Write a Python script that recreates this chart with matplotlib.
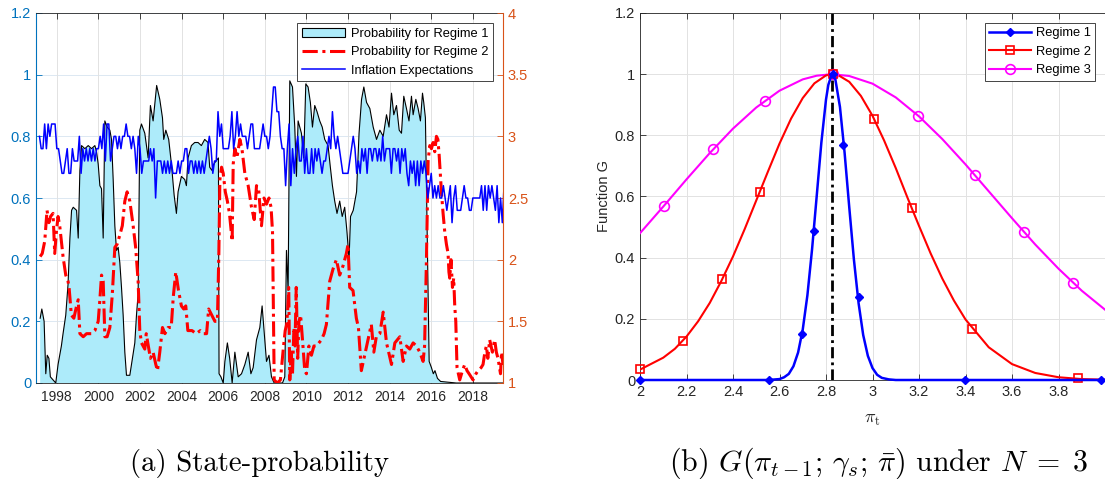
import numpy as np
import matplotlib
matplotlib.use('Agg')
import matplotlib.pyplot as plt
from matplotlib.patches import Patch
from matplotlib.lines import Line2D

plt.rcParams['font.family'] = ['Liberation Sans', 'DejaVu Sans']
plt.rcParams['mathtext.fontset'] = 'cm'

# ---------------- (a) state probabilities ----------------
# probability for regime 1 (decimal year, value)
reg1_t = [1997.2, 1997.28, 1997.39, 1997.47, 1997.54, 1997.62, 1997.69, 1997.82, 1997.95, 1998.06,
          1998.22, 1998.3, 1998.43, 1998.54, 1998.63, 1998.71, 1998.79, 1998.95, 1999.03, 1999.11,
          1999.19, 1999.35, 1999.51, 1999.67, 1999.83, 1999.91, 1999.99, 2000.07, 2000.15, 2000.23,
          2000.31, 2000.42, 2000.55, 2000.63, 2000.71, 2000.79, 2000.87, 2000.95, 2001.03, 2001.11,
          2001.19, 2001.27, 2001.35, 2001.51, 2001.59, 2001.75, 2001.83, 2001.91, 2001.99, 2002.07,
          2002.23, 2002.39, 2002.5, 2002.63, 2002.8, 2002.95, 2003.08, 2003.14, 2003.24, 2003.38,
          2003.51, 2003.64, 2003.75, 2003.83, 2003.99, 2004.15, 2004.23, 2004.31, 2004.47, 2004.63,
          2004.79, 2004.95, 2005.11, 2005.27, 2005.35, 2005.45, 2005.55, 2005.65, 2005.77, 2005.8,
          2005.89, 2006.0, 2006.08, 2006.2, 2006.31, 2006.43, 2006.56, 2006.72, 2006.88, 2007.04,
          2007.2, 2007.33, 2007.44, 2007.6, 2007.76, 2007.87, 2008.0, 2008.08, 2008.2, 2008.32,
          2008.45, 2008.85, 2008.96, 2009.04, 2009.12, 2009.2, 2009.33, 2009.44, 2009.52, 2009.6,
          2009.68, 2009.76, 2009.87, 2009.97, 2010.08, 2010.19, 2010.29, 2010.4, 2010.51, 2010.64,
          2010.76, 2010.88, 2011.04, 2011.15, 2011.25, 2011.36, 2011.47, 2011.6, 2011.72, 2011.84,
          2011.95, 2012.05, 2012.12, 2012.25, 2012.41, 2012.53, 2012.65, 2012.76, 2012.89, 2013.05,
          2013.21, 2013.37, 2013.53, 2013.69, 2013.85, 2013.97, 2014.09, 2014.2, 2014.33, 2014.46,
          2014.57, 2014.68, 2014.81, 2014.93, 2015.05, 2015.13, 2015.26, 2015.37, 2015.48, 2015.58,
          2015.64, 2015.72, 2015.8, 2015.9, 2016.01, 2016.1, 2016.18, 2016.3, 2016.45, 2017.2,
          2019.45]
reg1_p = [0.21, 0.24, 0.20, 0.03, 0.09, 0.08, 0.02, 0.01, 0.0, 0.06,
          0.12, 0.16, 0.22, 0.32, 0.47, 0.56, 0.57, 0.56, 0.47, 0.69,
          0.77, 0.76, 0.77, 0.76, 0.77, 0.75, 0.71, 0.64, 0.63, 0.47,
          0.85, 0.83, 0.82, 0.79, 0.66, 0.51, 0.43, 0.44, 0.39, 0.31,
          0.22, 0.10, 0.025, 0.025, 0.06, 0.13, 0.22, 0.29, 0.82, 0.84,
          0.81, 0.73, 0.90, 0.85, 0.965, 0.92, 0.86, 0.79, 0.82, 0.79,
          0.71, 0.61, 0.55, 0.62, 0.67, 0.66, 0.64, 0.73, 0.77, 0.78,
          0.78, 0.77, 0.79, 0.78, 0.70, 0.69, 0.71, 0.72, 0.73, 0.03,
          0.02, 0.0, 0.07, 0.13, 0.08, 0.0, 0.10, 0.02, 0.03, 0.06,
          0.10, 0.03, 0.05, 0.14, 0.18, 0.25, 0.14, 0.07, 0.09, 0.02,
          0.0, 0.0, 0.02, 0.43, 0.30, 0.98, 0.96, 0.83, 0.67, 0.85,
          0.83, 0.81, 0.73, 0.97, 0.96, 0.91, 0.83, 0.90, 0.88, 0.85,
          0.83, 0.79, 0.77, 0.70, 0.64, 0.59, 0.55, 0.59, 0.54, 0.57,
          0.49, 0.40, 0.54, 0.56, 0.62, 0.81, 0.92, 0.96, 0.91, 0.89,
          0.83, 0.79, 0.82, 0.80, 0.87, 0.83, 0.94, 0.87, 0.90, 0.82,
          0.81, 0.93, 0.89, 0.85, 0.93, 0.87, 0.92, 0.89, 0.85, 0.94,
          0.91, 0.86, 0.51, 0.07, 0.05, 0.03, 0.04, 0.015, 0.005, 0.0,
          0.0]

# probability for regime 2 (decimal year, value)
reg2_t = [1997.2, 1997.3, 1997.42, 1997.53, 1997.62, 1997.7, 1997.82, 1997.9, 1997.98, 1998.06,
          1998.14, 1998.22, 1998.3, 1998.43, 1998.54, 1998.59, 1998.7, 1998.82, 1998.95, 1999.03,
          1999.11, 1999.27, 1999.43, 1999.67, 1999.83, 1999.99, 2000.07, 2000.15, 2000.23, 2000.31,
          2000.42, 2000.55, 2000.67, 2000.79, 2000.9, 2001.03, 2001.15, 2001.27, 2001.38, 2001.51,
          2001.67, 2001.79, 2001.91, 2001.99, 2002.07, 2002.23, 2002.3, 2002.4, 2002.5, 2002.63,
          2002.76, 2002.84, 2002.95, 2003.08, 2003.2, 2003.35, 2003.5, 2003.6, 2003.72, 2003.85,
          2003.99, 2004.1, 2004.2, 2004.3, 2004.5, 2004.7, 2004.9, 2005.05, 2005.2, 2005.3,
          2005.45, 2005.6, 2005.72, 2005.79, 2005.84, 2005.92, 2006.0, 2006.1, 2006.2, 2006.3,
          2006.43, 2006.48, 2006.56, 2006.66, 2006.8, 2006.9, 2007.04, 2007.2, 2007.36, 2007.49,
          2007.6, 2007.7, 2007.84, 2007.96, 2008.08, 2008.2, 2008.3, 2008.37, 2008.45, 2008.6,
          2008.75, 2008.9, 2008.98, 2009.05, 2009.1, 2009.15, 2009.2, 2009.27, 2009.33, 2009.4,
          2009.45, 2009.51, 2009.58, 2009.64, 2009.72, 2009.8, 2009.92, 2010.0, 2010.12, 2010.24,
          2010.36, 2010.48, 2010.6, 2010.72, 2010.85, 2010.96, 2011.12, 2011.28, 2011.44, 2011.6,
          2011.76, 2011.92, 2012.0, 2012.08, 2012.24, 2012.4, 2012.5, 2012.64, 2012.8, 2012.96,
          2013.12, 2013.24, 2013.36, 2013.53, 2013.69, 2013.85, 2014.09, 2014.25, 2014.49, 2014.65,
          2014.81, 2014.97, 2015.13, 2015.29, 2015.45, 2015.61, 2015.68, 2015.77, 2015.85, 2015.93,
          2016.01, 2016.09, 2016.17, 2016.25, 2016.32, 2016.38, 2016.49, 2016.57, 2016.65, 2016.73,
          2016.81, 2016.85, 2016.89, 2016.95, 2017.02, 2017.08, 2017.13, 2017.18, 2017.24, 2017.37,
          2017.5, 2017.61, 2017.72, 2017.82, 2018.01, 2018.15, 2018.25, 2018.4, 2018.49, 2018.58,
          2018.65, 2018.72, 2018.81, 2018.94, 2019.05, 2019.13, 2019.21, 2019.33, 2019.38, 2019.45]
reg2_p = [0.41, 0.42, 0.46, 0.56, 0.52, 0.54, 0.55, 0.42, 0.49, 0.54,
          0.51, 0.46, 0.41, 0.35, 0.33, 0.31, 0.22, 0.21, 0.25, 0.27,
          0.16, 0.15, 0.16, 0.16, 0.17, 0.20, 0.27, 0.35, 0.33, 0.15,
          0.15, 0.18, 0.29, 0.44, 0.45, 0.48, 0.51, 0.59, 0.62, 0.59,
          0.51, 0.44, 0.33, 0.17, 0.13, 0.11, 0.16, 0.12, 0.08, 0.10,
          0.06, 0.04, 0.10, 0.18, 0.16, 0.18, 0.18, 0.28, 0.36, 0.30,
          0.25, 0.24, 0.25, 0.17, 0.17, 0.16, 0.17, 0.16, 0.16, 0.24,
          0.22, 0.20, 0.20, 0.42, 0.66, 0.70, 0.68, 0.62, 0.59, 0.55,
          0.46, 0.71, 0.76, 0.73, 0.79, 0.76, 0.68, 0.64, 0.57, 0.53,
          0.64, 0.63, 0.51, 0.60, 0.58, 0.60, 0.57, 0.49, 0.01, 0.0,
          0.01, 0.12, 0.17, 0.19, 0.24, 0.31, 0.01, 0.10, 0.03, 0.18,
          0.12, 0.31, 0.08, 0.20, 0.22, 0.15, 0.04, 0.03, 0.12, 0.09,
          0.12, 0.12, 0.13, 0.14, 0.16, 0.19, 0.33, 0.37, 0.40, 0.35,
          0.38, 0.42, 0.45, 0.31, 0.30, 0.21, 0.18, 0.04, 0.09, 0.14,
          0.19, 0.10, 0.15, 0.16, 0.23, 0.13, 0.06, 0.13, 0.15, 0.07,
          0.12, 0.11, 0.13, 0.12, 0.10, 0.07, 0.12, 0.40, 0.72, 0.77,
          0.76, 0.78, 0.75, 0.80, 0.79, 0.74, 0.62, 0.55, 0.49, 0.45,
          0.42, 0.36, 0.34, 0.40, 0.31, 0.34, 0.25, 0.20, 0.05, 0.01,
          0.04, 0.06, 0.04, 0.03, 0.01, 0.03, 0.04, 0.05, 0.06, 0.10,
          0.12, 0.08, 0.14, 0.10, 0.14, 0.10, 0.08, 0.03, 0.10, 0.06]

# inflation expectations, monthly from Mar 1997 (right axis)
infl_start = 1997 + 2 / 12
infl = [3.0, 2.9, 2.9, 3.1, 2.9, 3.1, 3.0, 3.1, 3.1, 3.1,
        2.9, 2.9, 2.8, 2.7, 2.7, 2.8, 2.9, 2.7, 2.7, 2.9,
        2.8, 2.8, 2.8, 3.0, 2.7, 2.9, 2.8, 2.9, 2.8, 2.9,
        2.8, 2.9, 2.8, 2.9, 2.9, 3.0, 2.9, 3.1, 2.8, 3.1,
        3.1, 2.8, 2.9, 3.0, 3.0, 2.9, 3.0, 2.9, 3.0, 3.0,
        3.1, 3.0, 3.0, 2.9, 3.0, 2.9, 2.7, 3.0, 2.9, 2.7,
        2.8, 2.8, 2.8, 2.8, 2.9, 2.8, 2.9, 2.5, 2.8, 2.8,
        2.8, 2.7, 2.8, 2.7, 2.8, 2.7, 2.8, 2.7, 2.7, 2.7,
        2.8, 2.7, 2.8, 2.8, 2.9, 2.9, 2.7, 2.8, 2.8, 2.7,
        2.8, 2.7, 2.8, 2.7, 2.8, 2.7, 2.8, 2.9, 3.0, 2.9,
        2.7, 2.8, 2.8, 3.2, 3.0, 3.1, 2.9, 2.9, 2.9, 2.9,
        3.0, 3.2, 2.9, 3.0, 3.2, 3.0, 3.1, 3.0, 3.0, 3.0,
        2.9, 3.0, 3.1, 3.1, 2.9, 2.9, 2.9, 2.9, 3.0, 3.1,
        3.0, 3.0, 2.9, 3.0, 3.2, 3.4, 3.4, 3.2, 3.2, 3.0,
        2.9, 2.9, 2.6, 2.9, 3.1, 2.6, 2.9, 2.7, 2.9, 3.0,
        2.8, 2.8, 3.0, 2.7, 2.9, 2.7, 2.7, 2.9, 2.7, 2.9,
        2.8, 2.9, 2.8, 2.7, 2.8, 2.8, 2.9, 3.0, 2.9, 3.2,
        3.0, 2.9, 3.0, 2.9, 2.8, 2.7, 2.7, 2.7, 2.7, 2.8,
        2.9, 3.0, 2.9, 2.7, 2.8, 2.7, 2.9, 2.8, 2.9, 2.7,
        2.9, 2.9, 2.8, 2.9, 2.9, 2.8, 2.9, 2.8, 3.0, 2.8,
        2.9, 2.9, 2.9, 2.7, 2.9, 2.9, 2.8, 2.9, 2.7, 2.9,
        2.8, 2.9, 2.7, 2.6, 2.8, 2.7, 2.8, 2.6, 2.8, 2.6,
        2.8, 2.7, 2.8, 2.7, 2.5, 2.6, 2.7, 2.5, 2.6, 2.5,
        2.6, 2.5, 2.5, 2.6, 2.5, 2.4, 2.5, 2.6, 2.3, 2.5,
        2.6, 2.4, 2.4, 2.4, 2.5, 2.6, 2.5, 2.5, 2.4, 2.4,
        2.5, 2.5, 2.5, 2.5, 2.5, 2.6, 2.4, 2.6, 2.4, 2.6,
        2.5, 2.6, 2.5, 2.4, 2.6, 2.3, 2.5, 2.3, 2.6]

year_ticks = [1998, 2000, 2002, 2004, 2006, 2008, 2010, 2012, 2014, 2016, 2018]
left_ticks = [0, 0.2, 0.4, 0.6, 0.8, 1, 1.2]
left_labels = ['0', '0.2', '0.4', '0.6', '0.8', '1', '1.2']
right_ticks = [1, 1.5, 2, 2.5, 3, 3.5, 4]
right_labels = ['1', '1.5', '2', '2.5', '3', '3.5', '4']

# ---------------- (b) function G ----------------
pibar = 2.825
# regime 1 curve and markers
g1_x = [2.0, 2.55, 2.6, 2.62, 2.64, 2.66, 2.68, 2.7, 2.72, 2.74, 2.76, 2.78, 2.8, 2.81, 2.825,
        2.84, 2.86, 2.88, 2.9, 2.92, 2.94, 2.96, 2.98, 3.0, 3.02, 3.04, 3.07, 3.1, 4.0]
g1_y = [0.0, 0.0, 0.003, 0.009, 0.02, 0.045, 0.09, 0.165, 0.277, 0.427, 0.601, 0.776, 0.917, 0.965, 1.0,
        0.984, 0.893, 0.743, 0.565, 0.394, 0.252, 0.147, 0.079, 0.039, 0.017, 0.007, 0.002, 0.0, 0.0]
m1_x = [2.0, 2.554, 2.697, 2.747, 2.828, 2.875, 2.94, 3.397, 3.983]
m1_y = [0.0, 0.0, 0.152, 0.488, 1.0, 0.768, 0.272, 0.0, 0.0]
# regime 2
g2_x = [2.0, 2.1, 2.15, 2.2, 2.25, 2.3, 2.35, 2.4, 2.45, 2.5, 2.55, 2.6, 2.65, 2.7, 2.75, 2.8, 2.825,
        2.85, 2.9, 2.95, 3.0, 3.05, 3.1, 3.15, 3.2, 3.25, 3.3, 3.35, 3.4, 3.5, 3.6, 3.7, 3.8, 3.9, 4.0]
g2_y = [0.034, 0.073, 0.102, 0.142, 0.192, 0.252, 0.324, 0.404, 0.493, 0.587, 0.681, 0.773, 0.855,
        0.922, 0.97, 0.996, 1.0, 0.998, 0.975, 0.929, 0.864, 0.783, 0.693, 0.597, 0.504, 0.414,
        0.332, 0.26, 0.198, 0.107, 0.052, 0.023, 0.009, 0.003, 0.001]
m2_x = [2.0, 2.186, 2.354, 2.514, 2.828, 3.007, 3.169, 3.429, 3.883]
m2_y = [0.035, 0.128, 0.329, 0.615, 1.0, 0.852, 0.563, 0.166, 0.005]
# regime 3
g3_x = [2.0, 2.1, 2.2, 2.3, 2.4, 2.5, 2.6, 2.7, 2.76, 2.825, 2.9, 3.0, 3.1, 3.2,
        3.3, 3.4, 3.5, 3.6, 3.7, 3.8, 3.9, 4.0]
g3_y = [0.48, 0.567, 0.656, 0.742, 0.822, 0.891, 0.946, 0.983, 0.995, 1.0, 0.994, 0.969, 0.924, 0.862,
        0.788, 0.705, 0.617, 0.529, 0.443, 0.364, 0.292, 0.23]
m3_x = [2.104, 2.314, 2.536, 2.828, 3.197, 3.439, 3.65, 3.861]
m3_y = [0.57, 0.754, 0.913, 1.0, 0.863, 0.67, 0.485, 0.318]

# colours
blue_ax = '#0072BD'
orange_ax = '#D95319'
dark = '#262626'
fill_c = '#ADEBFA'
mag = '#FF00FF'

fig = plt.figure(figsize=(11.05, 4.79), dpi=100)

# ---- left panel ----
ax = fig.add_axes([36 / 1105, 96 / 479, 467 / 1105, 370 / 479])
ax2 = ax.twinx()

ax.set_axisbelow(True)
for yt in left_ticks[1:]:
    ax.axhline(yt, color='#dce8f2', lw=0.7, zorder=0)
for xt in year_ticks:
    ax.axvline(xt, color='#e2e2e2', lw=0.7, zorder=0)

ax.fill_between(reg1_t, 0, reg1_p, facecolor=fill_c, edgecolor='none', zorder=1)
ax.plot(reg1_t, reg1_p, color='k', lw=0.8, zorder=2)
ax.plot(reg2_t, reg2_p, color='r', ls=(0, (5, 1.5, 1, 1.5)), lw=2.2, zorder=3)

infl_t = infl_start + np.arange(len(infl)) / 12
ax2.plot(infl_t, infl, color='b', lw=1.1)

ax.set_xlim(1997.0, 2019.45)
ax.set_ylim(0, 1.2)
ax2.set_ylim(1, 4)
ax.set_xticks(year_ticks)
ax.set_xticklabels([str(y) for y in year_ticks])
ax.set_yticks(left_ticks)
ax.set_yticklabels(left_labels)
ax2.set_yticks(right_ticks)
ax2.set_yticklabels(right_labels)

ax.tick_params(axis='x', direction='in', top=True, length=4, width=0.6, colors=dark,
               labelsize=10, pad=5)
ax.tick_params(axis='y', direction='in', length=4, width=0.6, colors=blue_ax, labelsize=10.5)
ax2.tick_params(axis='y', direction='in', length=4, width=0.6, colors=orange_ax, labelsize=10.5)

for s in ['top', 'bottom']:
    ax.spines[s].set_color(dark)
    ax.spines[s].set_linewidth(0.6)
ax.spines['left'].set_color(blue_ax)
ax.spines['right'].set_visible(False)
for s in ['top', 'bottom', 'left']:
    ax2.spines[s].set_visible(False)
ax2.spines['right'].set_color(orange_ax)

h1 = Patch(facecolor=fill_c, edgecolor='k', lw=0.8, label='Probability for Regime 1')
h2 = Line2D([], [], color='r', ls=(0, (5, 1.5, 1, 1.5)), lw=2.2, label='Probability for Regime 2')
h3 = Line2D([], [], color='b', lw=1.1, label='Inflation Expectations')
leg = ax2.legend(handles=[h1, h2, h3], loc='upper right', fontsize=9.3, frameon=True,
                 fancybox=False, framealpha=1, edgecolor=dark, handlelength=3.4,
                 borderaxespad=0.8, labelspacing=0.5, borderpad=0.35, handletextpad=0.4)
leg.get_frame().set_linewidth(0.6)

# ---- right panel ----
bx = fig.add_axes([640 / 1105, 99 / 479, 465 / 1105, 367 / 479])
bx.grid(True, color='#e2e2e2', lw=0.7)
bx.set_axisbelow(True)
bx.axvline(pibar, color='k', ls=(0, (4, 1.5, 1, 1.5)), lw=2.0, zorder=2)

bx.plot(g3_x, g3_y, color=mag, lw=1.5, zorder=3)
bx.plot(m3_x, m3_y, 'o', color=mag, ms=7, mfc='none', mew=1.2, zorder=4, clip_on=False)
bx.plot(g2_x, g2_y, color='r', lw=1.5, zorder=3)
bx.plot(m2_x, m2_y, 's', color='r', ms=6, mfc='none', mew=1.2, zorder=4, clip_on=False)
bx.plot(g1_x, g1_y, color='b', lw=1.8, zorder=5, clip_on=False)
bx.plot(m1_x, m1_y, 'D', color='b', ms=4.5, zorder=6, clip_on=False)

bx.set_xlim(2, 4)
bx.set_ylim(0, 1.2)
bx.set_xticks([2, 2.2, 2.4, 2.6, 2.8, 3, 3.2, 3.4, 3.6, 3.8])
bx.set_xticklabels(['2', '2.2', '2.4', '2.6', '2.8', '3', '3.2', '3.4', '3.6', '3.8'])
bx.set_yticks(left_ticks)
bx.set_yticklabels(left_labels)
bx.tick_params(direction='in', top=True, length=4, width=0.6, colors=dark, labelsize=10.5)
for s in ['top', 'bottom', 'left']:
    bx.spines[s].set_color(dark)
    bx.spines[s].set_linewidth(0.6)
bx.spines['right'].set_visible(False)
bx.set_ylabel('Function G', fontsize=10.5, color=dark, labelpad=3)
bx.set_xlabel(r'$\pi_{\mathrm{t}}$', fontsize=13, color=dark, labelpad=9)

r1 = Line2D([], [], color='b', lw=1.8, marker='D', ms=4.5, label='Regime 1')
r2 = Line2D([], [], color='r', lw=1.5, marker='s', ms=6, mfc='none', mew=1.2, label='Regime 2')
r3 = Line2D([], [], color=mag, lw=1.5, marker='o', ms=7, mfc='none', mew=1.2, label='Regime 3')
leg2 = bx.legend(handles=[r1, r2, r3], loc='upper right', fontsize=9.3, frameon=True,
                 fancybox=False, framealpha=1, edgecolor=dark, handlelength=3.2,
                 borderaxespad=0.75, labelspacing=0.5, borderpad=0.35, handletextpad=0.4)
leg2.get_frame().set_linewidth(0.6)

# captions
fig.text(260 / 1105, 1 - 463 / 479, '(a) State-probability', ha='center', va='center',
         fontsize=20.7, family='cmr10')
fig.text(879 / 1105, 1 - 463 / 479,
         r'(b) $G(\pi_{t-1};\,\gamma_s;\,\bar{\pi})$ under $N\;=\;3$',
         ha='center', va='center', fontsize=21.5, family='cmr10')

fig.savefig('out.png', dpi=100)
